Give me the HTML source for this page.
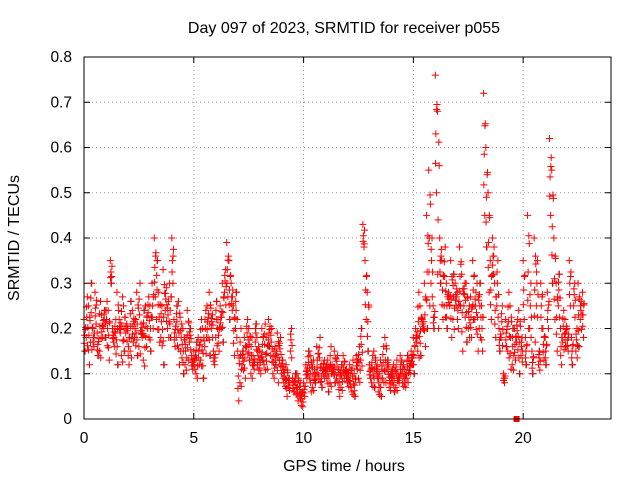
<!DOCTYPE html>
<html><head><meta charset="utf-8"><style>
body{margin:0;background:#fff}
svg{font-family:"Liberation Sans",sans-serif;font-size:15.5px}
</style></head><body>
<svg id="chart" width="640" height="480">
<rect width="640" height="480" fill="#fff"/>
<text x="344" y="33" text-anchor="middle" font-size="16">Day 097 of 2023, SRMTID for receiver p055</text>
<text x="344" y="471" text-anchor="middle" font-size="16">GPS time / hours</text>
<text transform="translate(19,238) rotate(-90)" text-anchor="middle" font-size="16">SRMTID / TECUs</text>
<g id="grid"></g>
<g id="axes"></g>
<g id="marks"></g>
<rect x="84" y="57" width="527" height="362" fill="none" stroke="#000"/>
</svg>
<script>
const xTicks=[0,5,10,15,20];
const yTicks=[0,0.1,0.2,0.3,0.4,0.5,0.6,0.7,0.8];
const yTickLabels=["0","0.1","0.2","0.3","0.4","0.5","0.6","0.7","0.8"];
const startHour=0, stepHours=0.1;
const valuesA=[.22,.18,.25,.17,.2,.28,.19,.15,.23,.2,
.18,.24,.35,.2,.16,.28,.22,.14,.25,.19,
.2,.15,.24,.18,.28,.16,.21,.13,.25,.2,
.25,.3,.4,.22,.28,.18,.33,.24,.2,.3,
.4,.22,.18,.26,.15,.2,.12,.24,.17,.14,
.15,.1,.18,.13,.2,.16,.25,.28,.2,.15,
.18,.22,.25,.3,.28,.39,.35,.3,.25,.2,
.15,.08,.12,.18,.16,.2,.1,.14,.17,.12,
.15,.2,.12,.18,.22,.14,.1,.16,.19,.13,
.1,.08,.12,.07,.15,.09,.06,.1,.05,.03,
.08,.12,.1,.14,.07,.11,.16,.09,.12,.1,
.1,.13,.08,.12,.15,.09,.11,.07,.14,.1,
.08,.12,.06,.1,.14,.09,.13,.43,.35,.28,
.12,.08,.15,.1,.06,.13,.09,.18,.11,.07,
.09,.12,.07,.1,.14,.08,.11,.09,.13,.15,
.18,.2,.15,.25,.22,.3,.45,.55,.3,.25,
.76,.68,.4,.35,.25,.3,.28,.35,.22,.3,
.28,.38,.32,.25,.3,.2,.27,.35,.22,.3,
.2,.25,.72,.6,.5,.35,.4,.3,.25,.2,
.18,.1,.22,.15,.25,.12,.2,.17,.24,.14,
.35,.18,.45,.2,.15,.4,.25,.12,.3,.2,
.18,.28,.62,.55,.4,.3,.25,.2,.17,.22,
.2,.35,.18,.25,.15,.3,.22,.28];
const valuesB=[.15,.27,.12,.3,.16,.21,.14,.26,.18,.24,
.26,.13,.3,.17,.22,.12,.19,.27,.15,.21,
.12,.26,.17,.22,.14,.3,.18,.24,.16,.27,
.15,.2,.27,.35,.17,.25,.12,.29,.26,.18,
.3,.16,.25,.12,.21,.1,.18,.13,.2,.11,
.11,.17,.12,.22,.09,.24,.18,.14,.23,.12,
.26,.15,.2,.17,.33,.27,.22,.24,.14,.28,
.04,.2,.15,.09,.22,.13,.18,.11,.21,.16,
.1,.13,.21,.11,.16,.2,.15,.12,.08,.18,
.13,.11,.05,.09,.2,.06,.1,.04,.08,.06,
.05,.09,.15,.06,.13,.08,.1,.18,.07,.13,
.12,.06,.16,.1,.08,.14,.05,.12,.09,.11,
.1,.07,.13,.05,.11,.16,.2,.38,.22,.15,
.09,.14,.07,.12,.1,.05,.16,.08,.13,.1,
.11,.06,.13,.08,.1,.12,.07,.14,.1,.12,
.1,.17,.28,.14,.2,.16,.2,.25,.4,.2,
.5,.2,.3,.22,.38,.2,.25,.18,.32,.25,
.2,.25,.15,.3,.17,.25,.18,.22,.28,.15,
.3,.15,.45,.38,.28,.22,.32,.18,.35,.15,
.25,.08,.16,.28,.11,.2,.13,.22,.1,.18,
.22,.12,.2,.3,.1,.17,.35,.15,.2,.13,
.12,.2,.45,.3,.22,.15,.32,.12,.24,.16,
.15,.25,.12,.3,.2,.16,.26,.18];
const NS="http://www.w3.org/2000/svg";
const X0=84,X1=611,Y0=419,Y1=57,XMAX=24,YMAX=0.8;
function xs(h){return X0+(X1-X0)*h/XMAX;}
function ys(v){return Y0-(Y0-Y1)*v/YMAX;}
function mk(tag,at,parent){const e=document.createElementNS(NS,tag);for(const k in at)e.setAttribute(k,at[k]);parent.appendChild(e);return e;}
const grid=document.getElementById('grid'),axes=document.getElementById('axes'),marks=document.getElementById('marks');
yTicks.forEach((v,i)=>{const y=ys(v);
 if(i>0&&i<yTicks.length-1){const l=mk('line',{x1:X0,x2:X1,y1:y,y2:y,stroke:'#a0a0a0','stroke-dasharray':'1,3'},grid);
 
 }
 mk('line',{x1:X0,x2:X0+6,y1:y,y2:y,stroke:'#000'},axes);
 mk('line',{x1:X1,x2:X1-6,y1:y,y2:y,stroke:'#000'},axes);
 const t=mk('text',{x:X0-12,y:y+5,'text-anchor':'end'},axes);t.textContent=yTickLabels[i];
 
 });
xTicks.forEach(h=>{const x=xs(h);
 if(h>0){const l=mk('line',{x1:x,x2:x,y1:Y0,y2:Y1,stroke:'#a0a0a0','stroke-dasharray':'1,3'},grid);
 
 }
 mk('line',{x1:x,x2:x,y1:Y0,y2:Y0-6,stroke:'#000'},axes);
 mk('line',{x1:x,x2:x,y1:Y1,y2:Y1+6,stroke:'#000'},axes);
 const t=mk('text',{x:x,y:Y0+24,'text-anchor':'middle'},axes);t.textContent=String(h);
 
 });
function plus(h,v,col){const x=xs(h),y=ys(v);
 const p=mk('path',{d:`M${x-3.5},${y}H${x+3.5}M${x},${y-3.5}V${y+3.5}`,stroke:col,'stroke-width':1},marks);
 
 }
valuesB.forEach((v,i)=>{if(i%3===0)plus(startHour+i*stepHours+0.03,v,'#404040');});
valuesA.forEach((v,i)=>{const h=startHour+i*stepHours,b=valuesB[i];
 plus(h,v,'#ff0000');
 plus(h+0.05,b,'#ff0000');
 plus(h+0.025,(v+b)/2,'#ff0000');
 plus(h+0.075,v*0.75+b*0.25,'#ff0000');
 plus(h+0.01,v*0.25+b*0.75,'#ff0000');
 plus(h+0.06,v*0.9,'#ff0000');});
const sq=mk('rect',{x:xs(19.7)-3,y:Y0-3,width:6,height:6,fill:'#ff0000'},marks);


</script>
</body></html>
